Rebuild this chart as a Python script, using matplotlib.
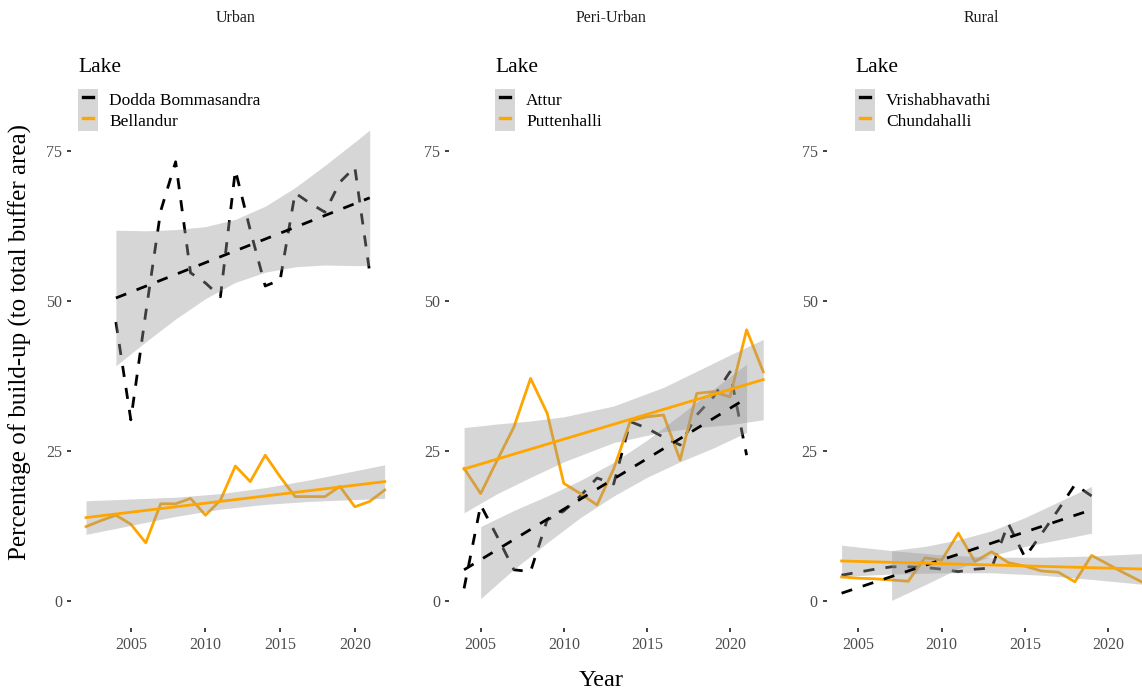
import matplotlib
matplotlib.use("Agg")
import matplotlib.pyplot as plt
import numpy as np
from matplotlib.lines import Line2D
from matplotlib.patches import Patch
from matplotlib.legend_handler import HandlerTuple, HandlerLine2D

plt.rcParams["font.family"] = ["Liberation Serif", "DejaVu Serif"]

# ---- Urban ----
dodda_years = list(range(2004, 2022))
dodda = [46.5, 30.2, 48, 65, 73.2, 54.7, 53, 50.7, 71.8, 61.8, 52.5, 53.5, 68, 66.3, 64.8, 69.8, 72.3, 54.7]
dodda_fit = [50.5, 67.2]            # lm trend at first / last year
dodda_band_years = [2004, 2006, 2008, 2010, 2012, 2014, 2016, 2018, 2020, 2021]
dodda_band_lo = [39.2, 43.2, 47.0, 50.4, 53.1, 54.8, 55.7, 56.0, 55.9, 55.9]
dodda_band_hi = [61.8, 61.7, 61.9, 62.4, 63.6, 65.8, 68.9, 72.6, 76.5, 78.5]

bellandur_years = list(range(2002, 2023))
bellandur = [12.4, 13.4, 14.3, 12.8, 9.7, 16.2, 16.2, 17.1, 14.3, 16.8, 22.5, 19.9, 24.3, 20.7, 17.4, 17.4, 17.4, 19.1, 15.7, 16.6, 18.5]
bellandur_fit = [13.9, 19.9]
bellandur_band_years = [2002, 2005, 2008, 2011, 2014, 2017, 2020, 2022]
bellandur_band_lo = [11.1, 12.6, 14.1, 15.3, 16.1, 16.6, 16.9, 17.1]
bellandur_band_hi = [16.7, 17.0, 17.3, 17.9, 18.9, 20.2, 21.7, 22.7]

# ---- Peri-Urban ----
attur_years = list(range(2004, 2022))
attur = [2.1, 16, 10.7, 5.2, 4.9, 13.5, 15.0, 17.5, 20.5, 19.5, 29.9, 28.8, 27.3, 26.0, 31.0, 34.0, 38.2, 24.3]
attur_fit = [5.2, 33.8]
attur_band_years = [2005, 2007, 2009, 2011, 2013, 2015, 2017, 2019, 2021]
attur_band_lo = [0.4, 5.3, 9.7, 13.9, 17.5, 20.6, 23.2, 25.5, 28.1]
attur_band_hi = [12.4, 15.1, 17.5, 20.1, 23.1, 26.8, 31.0, 35.3, 39.5]

putten_years = list(range(2004, 2023))
putten = [22.1, 17.9, 23.5, 29, 37.1, 31.3, 19.6, 17.9, 16, 22, 30, 30.7, 31, 23.5, 34.6, 34.9, 34, 45.2, 38.2]
putten_fit = [22.0, 36.9]
putten_band_years = [2004, 2006, 2008, 2010, 2013, 2016, 2018, 2020, 2022]
putten_band_lo = [14.7, 17.9, 20.6, 23.2, 26.4, 28.2, 28.9, 29.4, 30.2]
putten_band_hi = [28.9, 29.5, 30.0, 30.7, 32.5, 35.6, 38.3, 41.0, 43.6]

# ---- Rural ----
vrish_years = list(range(2004, 2020))
vrish = [4.3, 4.8, 5.3, 5.7, 5.7, 5.6, 5.3, 4.9, 5.3, 5.5, 12.9, 7.3, 11.2, 15.2, 19.4, 17.5]
vrish_fit = [1.3, 15.2]
vrish_band_years = [2007, 2009, 2011, 2013, 2015, 2017, 2019]
vrish_band_lo = [0.1, 2.7, 5.4, 7.5, 9.1, 10.2, 11.3]
vrish_band_hi = [8.4, 9.1, 10.2, 11.7, 13.9, 16.5, 19.1]

chunda_years = list(range(2004, 2023))
chunda = [4.0, 3.8, 3.7, 3.5, 3.3, 7.2, 6.8, 11.3, 6.6, 8.2, 6.4, 5.8, 5.0, 4.8, 3.2, 7.6, 6.1, 4.6, 3.2]
chunda_fit = [6.67, 5.33]
chunda_band_years = [2004, 2007, 2010, 2013, 2016, 2019, 2022]
chunda_band_lo = [4.1, 4.5, 4.7, 4.7, 4.3, 3.6, 2.8]
chunda_band_hi = [9.3, 8.4, 7.7, 7.3, 7.3, 7.5, 7.9]

ORANGE = "#FFA500"
BLACK = "#000000"
DASH = (0, (4, 4))

panels = [
    ("Urban", (2001, 2023),
     [("Dodda Bommasandra", BLACK, DASH, dodda_years, dodda, dodda_fit,
       dodda_band_years, dodda_band_lo, dodda_band_hi),
      ("Bellandur", ORANGE, "-", bellandur_years, bellandur, bellandur_fit,
       bellandur_band_years, bellandur_band_lo, bellandur_band_hi)]),
    ("Peri-Urban", (2003.1, 2022.9),
     [("Attur", BLACK, DASH, attur_years, attur, attur_fit,
       attur_band_years, attur_band_lo, attur_band_hi),
      ("Puttenhalli", ORANGE, "-", putten_years, putten, putten_fit,
       putten_band_years, putten_band_lo, putten_band_hi)]),
    ("Rural", (2003.1, 2022.9),
     [("Vrishabhavathi", BLACK, DASH, vrish_years, vrish, vrish_fit,
       vrish_band_years, vrish_band_lo, vrish_band_hi),
      ("Chundahalli", ORANGE, "-", chunda_years, chunda, chunda_fit,
       chunda_band_years, chunda_band_lo, chunda_band_hi)]),
]

W, H = 1142, 693
fig = plt.figure(figsize=(W / 100, H / 100), dpi=100)

# panel edges, strip title centres and legend corners in pixels
lefts = [71.1, 449.1, 826.6]
rights = [399.6, 778.2, 1156.6]
strip_x = [236, 611, 981]
legend_x = [78, 495, 855]
top_px, bot_px = 34, 628

# grey key with a short line drawn over it
hmap = {tuple: HandlerTuple(ndivide=1, pad=0),
        Line2D: HandlerLine2D(numpoints=2, marker_pad=0.3)}

for (title, xlim, series), lpx, rpx, sx, lx in zip(panels, lefts, rights, strip_x, legend_x):
    ax = fig.add_axes([lpx / W, 1 - bot_px / H, (rpx - lpx) / W, (bot_px - top_px) / H])
    handles, labels = [], []
    for name, col, ls, yrs, vals, fit, byrs, blo, bhi in series:
        ax.plot(yrs, vals, color=col, lw=2.0, ls=ls, zorder=1)
        ax.fill_between(byrs, blo, bhi, color="#999999", alpha=0.4, lw=0, zorder=2)
        ax.plot([yrs[0], yrs[-1]], fit, color=col, lw=2.0, ls=ls, zorder=3)
        handles.append((Patch(facecolor="#D6D6D6", edgecolor="none"),
                        Line2D([], [], color=col, lw=2.4)))
        labels.append(name)

    ax.set_xlim(*xlim)
    ax.set_ylim(-4.5, 94.5)
    ax.set_xticks([2005, 2010, 2015, 2020])
    ax.set_yticks([0, 25, 50, 75])
    for s in ax.spines.values():
        s.set_visible(False)
    ax.tick_params(direction="out", length=3, width=1.3, color="#333333",
                   labelcolor="#4D4D4D", labelsize=11.5, pad=3.5)
    ax.patch.set_alpha(0)

    # facet strip title
    fig.text(sx / W, 1 - 18 / H, title, ha="center", va="center",
             fontsize=11.5, color="#1A1A1A")

    # legend title and keys
    fig.text(lx / W, 1 - 68 / H, "Lake", ha="left", va="center", fontsize=15.5)
    ax.legend(handles, labels, handler_map=hmap, loc="upper left",
              bbox_to_anchor=(lx / W, 1 - 89 / H), bbox_transform=fig.transFigure,
              frameon=False, fontsize=12.5,
              handlelength=1.15, handleheight=1.5, labelspacing=0.0,
              handletextpad=0.65, borderpad=0, borderaxespad=0)

fig.text(20 / W, 1 - 342 / H, "Percentage of build-up (to total buffer area)",
         rotation=90, ha="center", va="center", fontsize=18)
fig.text(601 / W, 1 - 680 / H, "Year", ha="center", va="center", fontsize=17.5)

fig.savefig("out.png", dpi=100)
